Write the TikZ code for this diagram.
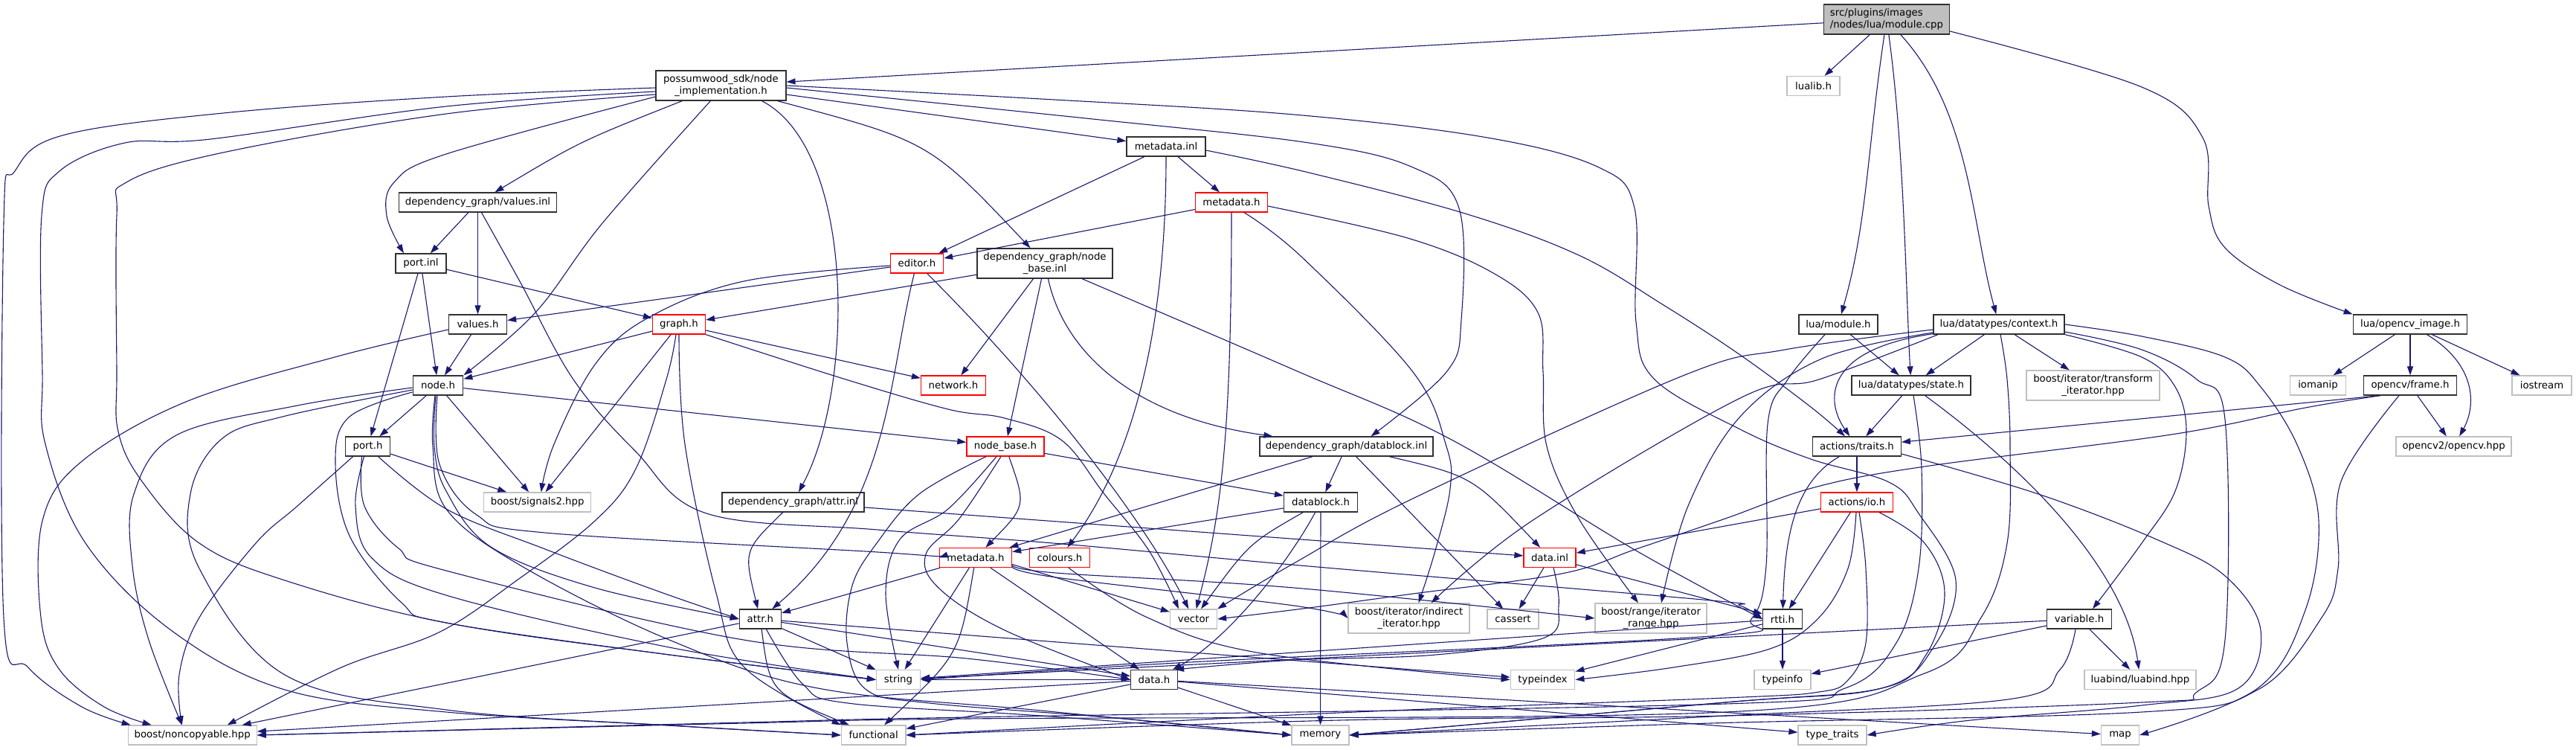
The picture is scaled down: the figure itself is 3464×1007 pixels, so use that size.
\documentclass[tikz,border=0pt]{standalone}
\usepackage{fontspec}
\setmainfont{DejaVu Sans}
\usetikzlibrary{arrows.meta}
\definecolor{edgecol}{HTML}{191970}
\definecolor{graybd}{HTML}{BFBFBF}
\definecolor{blackbd}{HTML}{303030}
\definecolor{redbd}{HTML}{FF0000}
\newcommand\dgfont{\fontsize{13.3pt}{15.4pt}\selectfont}
\tikzset{
  box/.style={rectangle, line width=1.3pt, fill=white, inner xsep=4pt, inner ysep=2pt,
              minimum height=26pt, font=\dgfont, align=center},
  fb/.style={box, draw=blackbd},
  fg/.style={box, draw=graybd},
  fr/.style={box, draw=redbd},
  froot/.style={box, draw=blackbd, fill=graybd, align=left},
  tall/.style={minimum height=40pt},
  e/.style={draw=edgecol, line width=1.1pt, -{Triangle[length=12pt,width=8pt]}},
}
\begin{document}
\begin{tikzpicture}[x=1pt,y=-1pt]
\useasboundingbox (0,0) rectangle (3464,1007);

% ---------------- nodes ----------------
\node[froot, tall, minimum width=169pt] (module) at (2537,26) {src/plugins/images\\/nodes/lua/module.cpp};
\node[fg, minimum width=71pt] (lualib) at (2438.5,115.5) {lualib.h};
\node[fb, minimum width=106pt] (luamodule) at (2472,436) {lua/module.h};
\node[fb, minimum width=176pt] (context) at (2688,436) {lua/datatypes/context.h};
\node[fb, minimum width=160pt] (state) at (2570,518) {lua/datatypes/state.h};
\node[fg, tall, minimum width=179pt] (transform) at (2814.5,518) {boost/iterator/transform\\\_iterator.hpp};
\node[fb, minimum width=118.5pt] (traits) at (2497,600) {actions/traits.h};
\node[fr, minimum width=97pt] (ioh) at (2497,675) {actions/io.h};
\node[fb, minimum width=53pt] (rtti) at (2397,832) {rtti.h};
\node[fb, minimum width=87pt] (variable) at (2796,832) {variable.h};
\node[fg, minimum width=76pt] (typeinfo) at (2397,913.5) {typeinfo};
\node[fg, minimum width=150pt] (luabind) at (2878,913.5) {luabind/luabind.hpp};
\node[fg, minimum width=92pt] (typetraits) at (2464,988) {type\_traits};
\node[fg, minimum width=51pt] (map) at (2851,988) {map};
\node[fb, minimum width=153.5pt] (opencvimg) at (3241,436) {lua/opencv\_image.h};
\node[fg, minimum width=74.5pt] (iomanip) at (3117,518) {iomanip};
\node[fb, minimum width=124.5pt] (frame) at (3241,518) {opencv/frame.h};
\node[fg, minimum width=80pt] (iostream) at (3418,518) {iostream};
\node[fg, minimum width=155pt] (opencvhpp) at (3299.6,600) {opencv2/opencv.hpp};

\node[fb, tall, minimum width=175pt] (nodeimpl) at (969.4,115) {possumwood\_sdk/node\\\_implementation.h};
\node[fb, minimum width=212pt] (valuesinl) at (642.5,272) {dependency\_graph/values.inl};
\node[fb, minimum width=68pt] (portinl) at (566,354) {port.inl};
\node[fb, minimum width=78pt] (valuesh) at (642.5,436) {values.h};
\node[fr, minimum width=71pt] (graph) at (913,436) {graph.h};
\node[fb, minimum width=106pt] (metadatainl) at (1568,197) {metadata.inl};
\node[fr, minimum width=97pt] (metadatatop) at (1656,272) {metadata.h};
\node[fr, minimum width=71pt] (editor) at (1233,354) {editor.h};
\node[fb, tall, minimum width=182pt] (nodebaseinl) at (1405,354) {dependency\_graph/node\\\_base.inl};
\node[fr, minimum width=87pt] (network) at (1282,518) {network.h};
\node[fr, minimum width=104pt] (nodebaseh) at (1352,600) {node\_base.h};
\node[fr, minimum width=97pt] (metadatabot) at (1312,749.5) {metadata.h};
\node[fr, minimum width=81.5pt] (colours) at (1425,749.5) {colours.h};
\node[fg, minimum width=63pt] (vector) at (1605,832) {vector};
\node[fg, minimum width=59pt] (string) at (1208,913.5) {string};
\node[fb, minimum width=63pt] (datah) at (1552,913.5) {data.h};
\node[fb, minimum width=233pt] (datablockinl) at (1810.5,600) {dependency\_graph/datablock.inl};
\node[fb, minimum width=99pt] (datablockh) at (1776,675) {datablock.h};
\node[fg, minimum width=77pt] (memory) at (1775.5,988) {memory};
\node[fg, minimum width=86.5pt] (functional) at (1174.6,988) {functional};
\node[fr, minimum width=70pt] (datainl) at (2084,749.5) {data.inl};
\node[fg, tall, minimum width=163pt] (indirect) at (1894.6,831) {boost/iterator/indirect\\\_iterator.hpp};
\node[fg, minimum width=69pt] (cassert) at (2034.5,832) {cassert};
\node[fg, tall, minimum width=150pt] (iterrange) at (2220,831) {boost/range/iterator\\\_range.hpp};
\node[fg, minimum width=86.5pt] (typeindex) at (2074.5,913.5) {typeindex};
\node[fg, minimum width=144pt] (signals2) at (722.7,675) {boost/signals2.hpp};
\node[fb, minimum width=191pt] (attrinl) at (1066.6,675) {dependency\_graph/attr.inl};
\node[fb, minimum width=56pt] (attrh) at (1022.4,832) {attr.h};
\node[fb, minimum width=67.5pt] (nodeh) at (589,518) {node.h};
\node[fb, minimum width=60pt] (porth) at (494.6,600) {port.h};
\node[fg, minimum width=173pt] (noncopyable) at (258.7,988) {boost/noncopyable.hpp};

% ---------------- edges ----------------
% module.cpp
\draw[e] (module) -- (nodeimpl);
\draw[e] (module) -- (lualib);
\draw[e] (module) .. controls (2511,200) and (2511,300) .. (luamodule);
\draw[e] (module) .. controls (2561,200) and (2563,400) .. (state);
\draw[e] (module) .. controls (2650,150) and (2651,300) .. (context);
\draw[e] plot[smooth,tension=0.6] coordinates {([yshift=-16pt]module.east) (2880,117) (2962,185) (2970,277) (2992,333) (3066,383) (opencvimg.north west)};

% node_implementation.h
\draw[e] (nodeimpl) -- (metadatainl);
\draw[e] (nodeimpl) .. controls (780,190) .. (valuesinl);
\draw[e] plot[smooth,tension=0.6] coordinates {([yshift=-15pt]nodeimpl.west) (600,207) (530,245) (520,290) ([xshift=-23pt]portinl.north)};
\draw[e] plot[smooth,tension=0.6] coordinates {([xshift=-14pt]nodeimpl.south) (810,300) (720,420) (nodeh.north east)};
\draw[e] ([xshift=55pt]nodeimpl.south) .. controls (1150,200) and (1150,520) .. (attrinl);
\draw[e] ([xshift=76pt]nodeimpl.south) .. controls (1250,190) .. (nodebaseinl);
\draw[e] plot[smooth,tension=0.6] coordinates {([yshift=-3pt]nodeimpl.east) (1460,159) (1760,192) (1900,225) (1962,280) (1965,430) (1945,500) ([xshift=33pt]datablockinl.north)};
\draw[e] plot[smooth,tension=0.6] coordinates {(nodeimpl.east) (1400,133) (1740,154) (2000,185) (2150,225) (2198,280) (2200,433) (2225,510) (2340,577) (2435,617) (2540,648) (2580,690) (2630,780) (2600,870) (2530,925) (2320,944) (memory.east)};
\draw[e] plot[smooth,tension=0.6] coordinates {([yshift=-3pt]nodeimpl.west) (600,130) (300,152) (84,182) (20,230) (5,300) (5,830) (38,897) (110,950) ([xshift=-83pt]noncopyable.north)};
\draw[e] plot[smooth,tension=0.6] coordinates {([yshift=-8pt]nodeimpl.west) (600,143) (283,187) (168,192) (80,230) (56,290) (57,500) (61,597) (115,730) (230,847) (383,927) (600,957) (900,975) (functional.west)};
\draw[e] plot[smooth,tension=0.6] coordinates {([yshift=-12pt]nodeimpl.west) (600,153) (300,205) (170,245) (157,290) (157,497) (159,580) (191,647) (268,730) (383,780) (600,837) (900,880) (string.west)};

% metadata.inl
\draw[e] (metadatainl) -- (editor);
\draw[e] (metadatainl) -- (metadatatop);
\draw[e] (metadatainl) .. controls (1568,500) and (1500,650) .. (colours);
\draw[e] plot[smooth,tension=0.6] coordinates {([yshift=-5pt]metadatainl.east) (1760,232) (1970,287) (2123,343) (2237,410) (2340,477) (2435,547) ([xshift=-16pt]traits.north)};

% metadata.h (top)
\draw[e] (metadatatop) -- (editor);
\draw[e] (metadatatop) .. controls (1656,600) and (1640,700) .. (vector);
\draw[e] plot[smooth,tension=0.6] coordinates {([xshift=17pt]metadatatop.south) (1750,345) (1900,500) (1945,600) (1950,657) (1930,740) ([xshift=13pt]indirect.north)};
\draw[e] plot[smooth,tension=0.6] coordinates {([yshift=-5pt]metadatatop.east) (1893,320) (2008,367) (2068,420) (2075,500) (2080,600) (2123,697) ([xshift=-17pt]iterrange.north)};

% values.inl
\draw[e] (valuesinl) -- (portinl);
\draw[e] (valuesinl) -- (valuesh);
\draw[e] plot[smooth,tension=0.6] coordinates {([xshift=5pt]valuesinl.south) (700,380) (771,510) (855,607) (950,690) (1180,712) (1428,731) (1760,761) (2290,806) (2340,814) (rtti.west)};

% port.inl
\draw[e] (portinl) -- (porth);
\draw[e] (portinl) -- (nodeh);
\draw[e] (portinl) -- (graph);

% values.h
\draw[e] (valuesh) -- (nodeh);
\draw[e] plot[smooth,tension=0.6] coordinates {([yshift=-7pt]valuesh.west) (450,480) (250,540) (110,620) (57,700) (55,830) (80,900) (140,950) ([xshift=-55pt]noncopyable.north)};

% editor.h
\draw[e] (editor) -- (valuesh);
\draw[e] plot[smooth,tension=0.6] coordinates {([yshift=-3pt]editor.west) (1000,378) (870,428) (800,490) (745,597) ([xshift=5pt]signals2.north)};
\draw[e] (editor) .. controls (1400,520) and (1540,700) .. (vector);
\draw[e] (editor) .. controls (1195,500) and (1200,680) .. (attrh);

% node_base.inl
\draw[e] (nodebaseinl) -- (graph);
\draw[e] (nodebaseinl) -- (network);
\draw[e] (nodebaseinl) -- (nodebaseh);
\draw[e] (nodebaseinl) .. controls (1430,470) and (1520,560) .. (datablockinl);
\draw[e] plot[smooth,tension=0.6] coordinates {([xshift=50pt]nodebaseinl.south) (1740,497) (1950,590) (2200,740) (rtti.west)};

% graph.h
\draw[e] (graph) -- (nodeh);
\draw[e] (graph) -- (signals2);
\draw[e] plot[smooth,tension=0.6] coordinates {([xshift=-4pt]graph.south) (896,510) (855,630) (800,700) (695,780) (590,850) (459,897) ([xshift=47pt]noncopyable.north)};
\draw[e] plot[smooth,tension=0.6] coordinates {(graph.south) (921,597) (963,797) (1001,897) (functional.north west)};
\draw[e] (graph) -- (network);
\draw[e] plot[smooth,tension=0.6] coordinates {(graph.south east) (1131,508) (1275,550) (1351,562) (1428,592) (1485,664) (1545,740) ([xshift=-20pt]vector.north)};

% node.h
\draw[e] (nodeh) -- (nodebaseh);
\draw[e] (nodeh) -- (porth);
\draw[e] (nodeh) -- (signals2);
\draw[e] plot[smooth,tension=0.6] coordinates {([xshift=-1pt]nodeh.south) (591,624) (641,692) (733,716) (1180,742) (metadatabot.west)};
\draw[e] plot[smooth,tension=0.6] coordinates {([xshift=-3pt]nodeh.south) (584,600) (600,660) (660,735) (800,790) (attrh.west)};
\draw[e] plot[smooth,tension=0.6] coordinates {([yshift=-3pt]nodeh.west) (400,545) (237,585) (180,664) (178,760) (200,860) ([xshift=-14pt]noncopyable.north)};
\draw[e] plot[smooth,tension=0.6] coordinates {([yshift=-6pt]nodeh.west) (380,560) (298,590) (256,664) (268,764) (383,907) (600,954) (900,975) (functional.west)};
\draw[e] plot[smooth,tension=0.6] coordinates {([yshift=-9pt]nodeh.west) (470,560) (451,620) (470,720) (540,810) (600,837) (900,880) (string.west)};
\draw[e] plot[smooth,tension=0.6] coordinates {([xshift=-4pt]nodeh.south) (582,600) (600,684) (700,760) (900,860) (1100,925) (1400,955) (memory.west)};

% port.h
\draw[e] plot[smooth,tension=0.6] coordinates {([xshift=-20pt]porth.south) (400,680) (344,730) (268,830) (241,907) ([xshift=-14pt]noncopyable.north)};
\draw[e] (porth) -- (signals2);
\draw[e] plot[smooth,tension=0.6] coordinates {([xshift=14pt]porth.south) (600,684) (733,738) (886,795) (attrh.west)};
\draw[e] plot[smooth,tension=0.6] coordinates {([xshift=-5pt]porth.south) (478,680) (500,750) (600,800) (900,870) (string.west)};
\draw[e] plot[smooth,tension=0.6] coordinates {([xshift=-8pt]porth.south) (490,680) (536,737) (600,767) (1000,860) (1300,885) (datah.west)};

% attr.inl
\draw[e] (attrinl) .. controls (1000,740) .. (attrh);
\draw[e] (attrinl) -- (datainl);

% node_base.h
\draw[e] (nodebaseh) .. controls (1380,680) .. (metadatabot);
\draw[e] plot[smooth,tension=0.6] coordinates {([xshift=-6pt]nodebaseh.south) (1290,697) (1245,745) (1262,790) (1351,847) (datah.west)};
\draw[e] plot[smooth,tension=0.6] coordinates {([xshift=-12pt]nodebaseh.south) (1275,684) (1210,725) (1191,797) (string.north)};
\draw[e] (nodebaseh) -- (datablockh);
\draw[e] plot[smooth,tension=0.6] coordinates {([xshift=-26pt]nodebaseh.south) (1236,664) (1179,730) (1146,787) (1139,864) (1165,927) (1250,945) (1500,965) (memory.west)};

% metadata.h (bottom)
\draw[e] (metadatabot) -- (attrh);
\draw[e] (metadatabot) -- (string);
\draw[e] (metadatabot) .. controls (1290,880) .. (functional);
\draw[e] (metadatabot) -- (datah);
\draw[e] ([yshift=-9pt]metadatabot.east) -- (vector);
\draw[e] plot[smooth,tension=0.6] coordinates {([yshift=-10pt]metadatabot.east) (1420,770) (1740,790) (iterrange.west)};
\draw[e] plot[smooth,tension=0.6] coordinates {([yshift=-12pt]metadatabot.east) (1420,776) (1740,814) (indirect.west)};

% colours.h
\draw[e] plot[smooth,tension=0.6] coordinates {([xshift=12pt]colours.south) (1543,830) (1696,878) (typeindex.west)};

% datablock.inl
\draw[e] (datablockinl) -- (datablockh);
\draw[e] (datablockinl) .. controls (1980,640) .. (datainl);
\draw[e] (datablockinl) -- (cassert);
\draw[e] (datablockinl) -- (metadatabot);

% datablock.h
\draw[e] (datablockh) -- (metadatabot);
\draw[e] (datablockh) .. controls (1680,730) .. (vector);
\draw[e] (datablockh) .. controls (1730,760) and (1650,860) .. (datah);
\draw[e] (datablockh) -- (memory);

% data.inl
\draw[e] (datainl) -- (cassert);
\draw[e] plot[smooth,tension=0.6] coordinates {([xshift=5pt]datainl.south) (2096,814) (2077,857) (1931,880) (1740,887) ([xshift=-4pt]datah.north east)};
\draw[e] (datainl) -- (rtti);

% data.h
\draw[e] (datah) -- (string);
\draw[e] (datah) -- (functional);
\draw[e] (datah) -- (memory);
\draw[e] (datah) -- (noncopyable);
\draw[e] (datah) -- (map);
\draw[e] (datah) -- (typetraits);

% attr.h
\draw[e] (attrh) -- (string);
\draw[e] (attrh) .. controls (1035,930) .. (functional);
\draw[e] (attrh) -- (noncopyable);
\draw[e] (attrh) -- (datah);
\draw[e] (attrh) -- (typeindex);
\draw[e] plot[smooth,tension=0.6] coordinates {([xshift=8pt]attrh.south) (1080,920) (1140,945) (1400,962) (memory.west)};

% rtti.h
\draw[e] (rtti) -- (typeinfo);
\draw[e] (rtti) -- (string);
\draw[e] (rtti) -- (typeindex);

% actions/traits.h
\draw[e] (traits) -- (ioh);
\draw[e] (traits) .. controls (2410,650) and (2400,730) .. (rtti);
\draw[e] plot[smooth,tension=0.6] coordinates {([yshift=-10pt]traits.east) (2741,664) (2900,725) (2992,774) (3040,847) (3010,925) (2880,948) (2650,968) (typetraits.east)};

% actions/io.h
\draw[e] (ioh) -- (datainl);
\draw[e] (ioh) -- (rtti);
\draw[e] plot[smooth,tension=0.6] coordinates {([xshift=-1pt]ioh.south) (2485,764) (2446,830) (2380,872) (2250,897) (typeindex.east)};
\draw[e] plot[smooth,tension=0.6] coordinates {([xshift=3pt]ioh.south) (2509,764) (2509,864) (2485,914) (2446,930) (2320,938) (1800,958) (functional.east)};
\draw[e] plot[smooth,tension=0.6] coordinates {([xshift=30pt]ioh.south) (2588,730) (2615,797) (2590,880) (2530,925) (2320,944) (memory.east)};

% lua/datatypes/state.h
\draw[e] (state) -- (traits);
\draw[e] (state) .. controls (2750,650) and (2860,780) .. (luabind);
\draw[e] plot[smooth,tension=0.6] coordinates {([xshift=3pt]state.south) (2584,630) (2580,764) (2550,864) (2481,925) (2320,946) (1300,964) (1000,971) (noncopyable.east)};

% lua/module.h
\draw[e] (luamodule) -- (state);
\draw[e] plot[smooth,tension=0.6] coordinates {([xshift=-18pt]luamodule.south) (2404,510) (2377,570) (2375,760) (2355,832) (2300,855) (1600,890) (string.east)};

% lua/datatypes/context.h
\draw[e] (context) -- (state);
\draw[e] (context) .. controls (2450,470) and (2455,540) .. (traits);
\draw[e] (context) -- (transform);
\draw[e] plot[smooth,tension=0.6] coordinates {(context.south east) (2880,480) (2925,520) (2940,580) (2925,660) (2880,730) ([xshift=18pt]variable.north)};
\draw[e] plot[smooth,tension=0.6] coordinates {([yshift=-7pt]context.west) (2400,470) (2263,505) (1900,670) (1740,757) (vector.north east)};
\draw[e] plot[smooth,tension=0.6] coordinates {([xshift=-82pt]context.south) (2446,510) (2340,535) (2060,700) ([xshift=30pt]indirect.north)};
\draw[e] plot[smooth,tension=0.6] coordinates {([yshift=-11pt]context.west) (2450,482) (2340,560) (2270,680) ([xshift=14pt]iterrange.north)};
\draw[e] plot[smooth,tension=0.6] coordinates {([xshift=2pt]context.south) (2699,510) (2703,600) (2699,730) (2664,830) (2588,905) (2320,957) (1300,966) (1000,972) (noncopyable.east)};
\draw[e] plot[smooth,tension=0.6] coordinates {(context.east) (2880,452) (2992,480) (3040,520) (3090,600) (3118,700) (3100,820) (3036,925) (map.east)};
\draw[e] plot[smooth,tension=0.6] coordinates {([yshift=-10pt]context.east) (2880,470) (2954,510) (2992,564) (2992,860) (2954,930) (2880,944) (2320,962) (1800,968) (functional.east)};

% variable.h
\draw[e] (variable) -- (typeinfo);
\draw[e] (variable) -- (luabind);
\draw[e] (variable) -- (string);
\draw[e] plot[smooth,tension=0.6] coordinates {([xshift=-5pt]variable.south) (2770,900) (2700,940) (2320,962) (memory.east)};

% lua/opencv_image.h
\draw[e] (opencvimg) -- (iomanip);
\draw[e] (opencvimg) -- (frame);
\draw[e] (opencvimg) .. controls (3330,490) and (3330,545) .. (opencvhpp);
\draw[e] (opencvimg) -- (iostream);

% opencv/frame.h
\draw[e] ([xshift=-41pt]frame.south) -- (traits);
\draw[e] (frame) -- (opencvhpp);
\draw[e] plot[smooth,tension=0.6] coordinates {([xshift=-40pt]frame.south) (3100,548) (2920,584) (2588,627) (2440,655) (2320,697) (2200,738) (2100,771) (1900,798) (1760,817) (vector.east)};
\draw[e] plot[smooth,tension=0.6] coordinates {([xshift=-15pt]frame.south) (3148,647) (3144,764) (3122,830) (3036,927) (2880,957) (2300,972) (memory.east)};

\end{tikzpicture}
\end{document}
